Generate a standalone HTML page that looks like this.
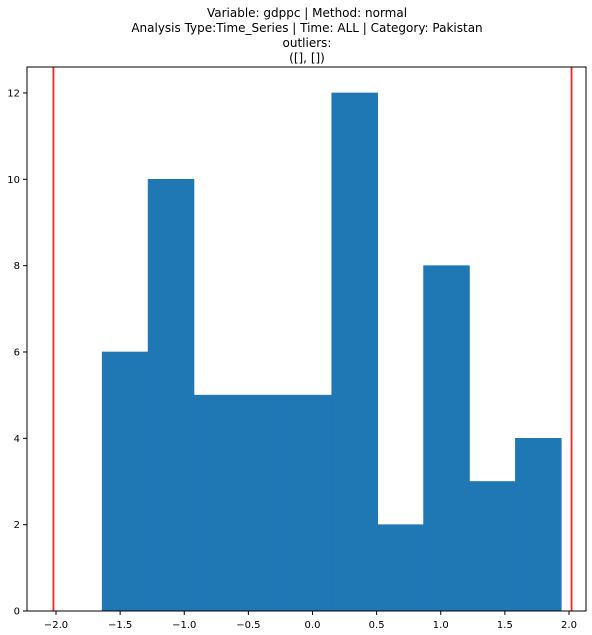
<!DOCTYPE html>
<html><head><meta charset="utf-8"><style>
body{margin:0;background:#fff;}
svg{display:block;font-family:"DejaVu Sans","Liberation Sans",sans-serif;}
</style></head><body>
<svg id="chart" width="592" height="635">
<g id="title" font-size="12" text-anchor="middle" fill="#000">
<text x="307" y="17">Variable: gdppc | Method: normal</text>
<text x="307" y="32">Analysis Type:Time_Series | Time: ALL | Category: Pakistan</text>
<text x="307" y="47">outliers:</text>
<text x="307" y="62">([], [])</text>
</g>
</svg>
<script>
const binEdges=[-1.64,-1.282,-0.924,-0.566,-0.208,0.15,0.508,0.866,1.224,1.582,1.94];
const counts=[6,10,5,5,5,12,2,8,3,4];
const outlierBounds=[-2.02,2.02];
const xTicks=[-2.0,-1.5,-1.0,-0.5,0.0,0.5,1.0,1.5,2.0];
const yTicks=[0,2,4,6,8,10,12];
const L=27,R=586,T=67,B=611;
const X=v=>312.5+v*128.25;
const Y=v=>B-v*43.17;
const svg=document.getElementById('chart');
const NS='http://www.w3.org/2000/svg';
function mk(t,a){const e=document.createElementNS(NS,t);for(const k in a)e.setAttribute(k,a[k]);svg.appendChild(e);return e;}
for(let i=0;i<counts.length;i++){
  const r=mk('rect',{x:X(binEdges[i]),y:Y(counts[i]),width:X(binEdges[i+1])-X(binEdges[i]),height:B-Y(counts[i]),fill:'#1f77b4',stroke:'#1f77b4','stroke-width':0.6});
  
  
}
outlierBounds.forEach(v=>{
  const l=mk('line',{x1:X(v),x2:X(v),y1:T,y2:B,stroke:'#ff2020','stroke-width':1.8});
  
  
});
const ax=mk('rect',{x:L,y:T,width:R-L,height:B-T,fill:'none',stroke:'#000','stroke-width':1});


xTicks.forEach(v=>{
  mk('line',{x1:X(v),x2:X(v),y1:B,y2:B+4,stroke:'#000'});
  const t=mk('text',{x:X(v),y:B+17,'font-size':10,'text-anchor':'middle'});
  t.textContent=v.toFixed(1).replace('-','\u2212');
  
  
});
yTicks.forEach(v=>{
  mk('line',{x1:L-4,x2:L,y1:Y(v),y2:Y(v),stroke:'#000'});
  const t=mk('text',{x:L-7,y:Y(v)+3.5,'font-size':10,'text-anchor':'end'});
  t.textContent=v;
  
  
});
</script>
</body></html>
